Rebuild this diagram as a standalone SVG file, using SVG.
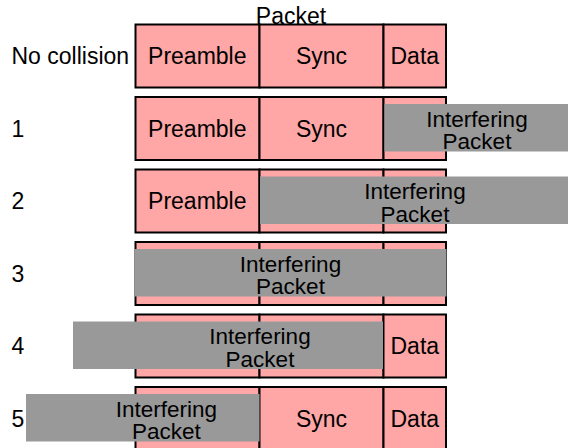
<svg xmlns="http://www.w3.org/2000/svg" width="568" height="448" viewBox="0 0 568 448">
<style>
text{font-family:"Liberation Sans",Arial,sans-serif;font-size:23px;fill:#000}
.c{text-anchor:middle}
.i{font-size:22.5px}
.cell{fill:#ffa6a6;stroke:#000;stroke-width:2}
.intf{fill:#999999;stroke:none}
</style>
<rect width="568" height="448" fill="#fff"/>
<text id="title" class="c" x="291" y="24">Packet</text>
<g id="row0">
<rect class="cell" x="135.5" y="24.5" width="124" height="63"/>
<rect class="cell" x="259.5" y="24.5" width="124" height="63"/>
<rect class="cell" x="383.5" y="24.5" width="62.5" height="63"/>
<text x="11.5" y="64">No collision</text>
<text class="c" x="197.3" y="64">Preamble</text>
<text class="c" x="321.5" y="64">Sync</text>
<text class="c" x="414.8" y="64">Data</text>
</g>
<g id="row1">
<rect class="cell" x="135.5" y="97" width="124" height="63"/>
<rect class="cell" x="259.5" y="97" width="124" height="63"/>
<rect class="cell" x="383.5" y="97" width="62.5" height="63"/>
<text x="11.5" y="136.5">1</text>
<text class="c" x="197.3" y="136.5">Preamble</text>
<text class="c" x="321.5" y="136.5">Sync</text>
<g id="intf1"><rect class="intf" x="384.5" y="104" width="186" height="47.5"/>
<text class="c i" x="477" y="126.5">Interfering</text>
<text class="c i" x="477" y="149.3">Packet</text></g>
</g>
<g id="row2">
<rect class="cell" x="135.5" y="169.5" width="124" height="63"/>
<rect class="cell" x="259.5" y="169.5" width="124" height="63"/>
<rect class="cell" x="383.5" y="169.5" width="62.5" height="63"/>
<text x="11.5" y="209">2</text>
<text class="c" x="197.3" y="209">Preamble</text>
<g id="intf2"><rect class="intf" x="260" y="176.5" width="311" height="47.5"/>
<text class="c i" x="415" y="199">Interfering</text>
<text class="c i" x="415" y="221.8">Packet</text></g>
</g>
<g id="row3">
<rect class="cell" x="135.5" y="242" width="124" height="63"/>
<rect class="cell" x="259.5" y="242" width="124" height="63"/>
<rect class="cell" x="383.5" y="242" width="62.5" height="63"/>
<text x="11.5" y="281.5">3</text>
<g id="intf3"><rect class="intf" x="134.5" y="249" width="312" height="47.5"/>
<text class="c i" x="290.5" y="271.5">Interfering</text>
<text class="c i" x="290.5" y="294.3">Packet</text></g>
</g>
<g id="row4">
<rect class="cell" x="135.5" y="314.5" width="124" height="63"/>
<rect class="cell" x="259.5" y="314.5" width="124" height="63"/>
<rect class="cell" x="383.5" y="314.5" width="62.5" height="63"/>
<text x="11.5" y="354">4</text>
<text class="c" x="414.8" y="354">Data</text>
<g id="intf4"><rect class="intf" x="73" y="321.5" width="310" height="47.5"/>
<text class="c i" x="260" y="344">Interfering</text>
<text class="c i" x="260" y="366.8">Packet</text></g>
</g>
<g id="row5">
<rect class="cell" x="135.5" y="387" width="124" height="63"/>
<rect class="cell" x="259.5" y="387" width="124" height="63"/>
<rect class="cell" x="383.5" y="387" width="62.5" height="63"/>
<text x="11.5" y="426.5">5</text>
<text class="c" x="321.5" y="426.5">Sync</text>
<text class="c" x="414.8" y="426.5">Data</text>
<g id="intf5"><rect class="intf" x="26" y="394" width="233.5" height="47.5"/>
<text class="c i" x="166.3" y="416.5">Interfering</text>
<text class="c i" x="166.3" y="439.3">Packet</text></g>
</g>
<g id="connectors"/>
</svg>
